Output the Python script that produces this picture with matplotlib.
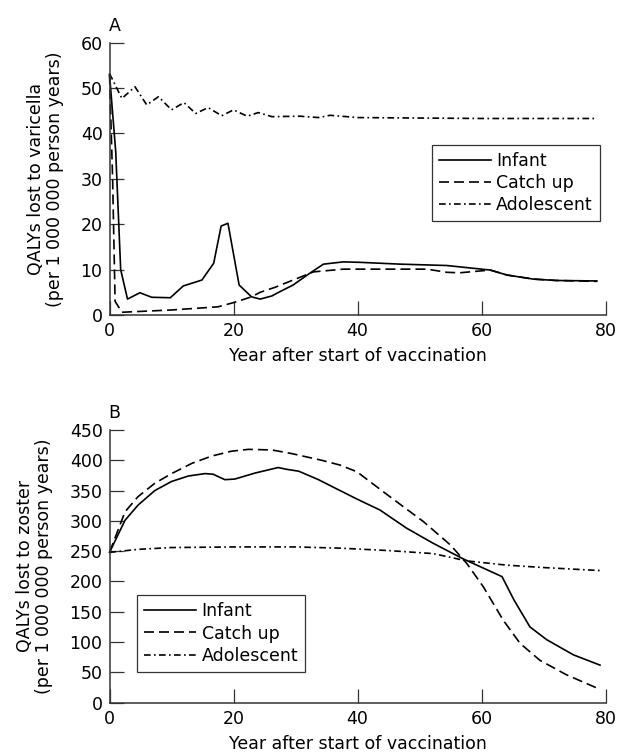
import numpy as np
import matplotlib
matplotlib.use('Agg')
import matplotlib.pyplot as plt

plt.rcParams['font.family'] = ['DejaVu Sans']
plt.rcParams['font.size'] = 12

# panel A: QALYs lost to varicella
a_infant_x = [0, 1, 1.8, 2.9, 4.9, 6.8, 9.8, 11.9, 14.9, 16.8, 18, 19.1, 20.9, 22.9, 24.3,
              26.2, 27, 29.6, 32.3, 34.5, 37.7, 40.4, 46.9, 54.4, 56.5, 61.4, 64.1, 68.4,
              72.1, 78.6]
a_infant_y = [53, 36, 10, 3.5, 4.9, 3.9, 3.8, 6.4, 7.7, 11.4, 19.6, 20.2, 6.6, 4.0, 3.5,
              4.2, 4.8, 6.6, 9.2, 11.2, 11.7, 11.6, 11.2, 10.9, 10.6, 9.9, 8.8, 7.9,
              7.6, 7.5]
a_catch_x = [0, 0.5, 0.9, 2, 10, 17.5, 20.2, 22.9, 24.3, 26.7, 29.6, 32.9, 37.7, 51.2,
             54.4, 56.5, 61.4, 64.1, 68.4, 72.1, 78.6]
a_catch_y = [53, 30, 3, 0.6, 1.1, 1.8, 2.8, 4.0, 5.0, 6.1, 7.7, 9.5, 10.1, 10.1,
             9.4, 9.3, 9.9, 8.8, 7.9, 7.6, 7.4]
a_adol_x = [0, 2, 4.1, 6, 7.9, 10, 12, 13.9, 15.9, 18.1, 20, 22.2, 24, 26.2, 30.7, 33.7,
            35.6, 40, 50, 60, 70, 78.6]
a_adol_y = [53.2, 47.7, 50.3, 46.3, 48.1, 45.2, 46.8, 44.4, 45.7, 43.9, 45.2, 43.8, 44.6,
            43.7, 43.8, 43.5, 44.0, 43.5, 43.4, 43.3, 43.3, 43.3]

# panel B: QALYs lost to zoster
b_infant_x = [0, 2.5, 4.6, 7.3, 10, 12.7, 15.4, 16.7, 18.6, 20.2, 23.5, 27.2, 28.6, 30.5,
              33.7, 36.4, 39.9, 43.6, 47.9, 52.2, 57.1, 60.3, 63.3, 65.2, 67.8, 70.5,
              74.8, 79.1]
b_infant_y = [248, 301, 326, 350, 365, 374, 378, 377, 368, 369, 379, 388, 385, 382,
              368, 354, 336, 318, 288, 263, 237, 222, 208, 170, 125, 104, 79, 62]
b_catch_x = [0, 2.5, 4.6, 7.3, 10, 13.3, 16.5, 19.7, 22.4, 26.2, 29.4, 34.2, 37.2, 39.9,
             45.2, 50.6, 55, 57.6, 60.3, 63.5, 66.2, 69.4, 73.7, 79.1]
b_catch_y = [248, 315, 340, 362, 378, 395, 407, 415, 418, 417, 411, 400, 392, 381,
             340, 299, 260, 230, 191, 136, 98, 70, 46, 22]
b_adol_x = [0, 4.6, 10, 20, 30, 37.2, 45, 52.2, 57.6, 64, 70, 79.1]
b_adol_y = [248, 253, 256, 257, 257, 255, 251, 246, 234, 227, 223, 218]

series_labels = ['Infant', 'Catch up', 'Adolescent']
x_ticks = [0, 20, 40, 60, 80]

styles = [dict(color='black', lw=1.2, ls='-'),
          dict(color='black', lw=1.2, ls=(0, (6, 3))),
          dict(color='black', lw=1.2, ls=(0, (4, 2, 1, 2)))]

fig = plt.figure(figsize=(6.17, 7.53), dpi=100)
ax_a = fig.add_axes([0.1775, 0.5817, 0.804, 0.3616])
ax_b = fig.add_axes([0.1775, 0.0668, 0.804, 0.3622])


def style_axis(ax, ymax, ystep, ylabel, letter):
    ax.set_xlim(0, 80)
    ax.set_ylim(0, ymax)
    ax.set_xticks(x_ticks)
    ax.set_yticks(np.arange(0, ymax + 1, ystep))
    for s in ['top', 'right']:
        ax.spines[s].set_visible(False)
    for s in ['left', 'bottom']:
        ax.spines[s].set_color('#333333')
        ax.spines[s].set_linewidth(1.1)
    ax.tick_params(direction='in', length=10, width=0.9, color='#333333', pad=5,
                   labelsize=12.5)
    ax.set_ylabel(ylabel, fontsize=12.5, labelpad=12, linespacing=1.05)
    ax.set_xlabel('Year after start of vaccination', fontsize=12.5, labelpad=5)
    ax.text(0.01, 1.03, letter, transform=ax.transAxes, fontsize=12.5,
            ha='center', va='bottom')


for ax, data in [(ax_a, [(a_infant_x, a_infant_y), (a_catch_x, a_catch_y), (a_adol_x, a_adol_y)]),
                 (ax_b, [(b_infant_x, b_infant_y), (b_catch_x, b_catch_y), (b_adol_x, b_adol_y)])]:
    for (xs, ys), lab, st in zip(data, series_labels, styles):
        ax.plot(xs, ys, label=lab, clip_on=False, **st)

style_axis(ax_a, 60, 10, 'QALYs lost to varicella\n(per 1 000 000 person years)', 'A')
style_axis(ax_b, 450, 50, 'QALYs lost to zoster\n(per 1 000 000 person years)', 'B')

leg_kw = dict(frameon=True, fancybox=False, edgecolor='black', handlelength=3,
              handletextpad=0.3, labelspacing=0.25, borderpad=0.4, fontsize=12.5,
              borderaxespad=0)
leg_a = ax_a.legend(loc='upper left', bbox_to_anchor=(0.65, 0.625), **leg_kw)
leg_b = ax_b.legend(loc='upper left', bbox_to_anchor=(0.056, 0.394), **leg_kw)
for leg in (leg_a, leg_b):
    leg.get_frame().set_linewidth(0.9)

fig.savefig('out.png', dpi=100)
